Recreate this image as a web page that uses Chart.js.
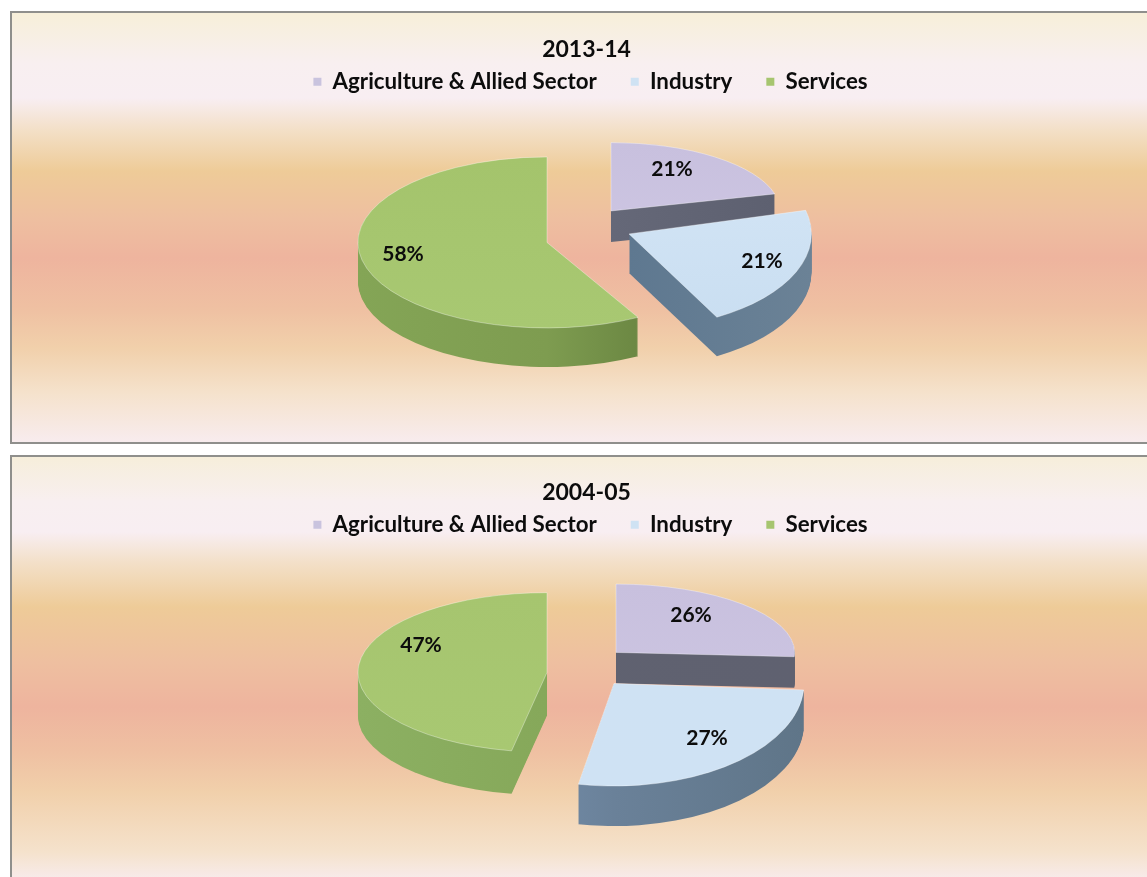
<!DOCTYPE html>
<html><head><meta charset="utf-8">
<style>
html,body{margin:0;padding:0;background:#fff;overflow:hidden;width:1147px;height:877px}
.box{position:absolute;left:10px;width:1149px;box-sizing:content-box;border-left:2px solid #8f8f8c;border-top:2px solid #8f8f8c;border-bottom:2px solid #8f8f8c}
#b1{top:11px;height:429px;background:linear-gradient(to bottom,#f7efd9 0,#f8eff0 50px,#f8eef2 85px,#f3dfc6 118px,#eecb98 158px,#eebfa0 205px,#eeb49e 245px,#efc0a2 295px,#f1d0ab 335px,#f5e2cc 380px,#f8ecee 429px)}
#b2{top:455px;height:425px;background:linear-gradient(to bottom,#f6eedb 0,#f8eff0 45px,#f8eef2 75px,#f3e0c9 105px,#eecb98 150px,#eebfa0 205px,#eeb49e 250px,#efc0a2 295px,#f1d0ab 335px,#f5e2cc 395px,#f8ecee 425px)}
canvas{display:block;filter:blur(.5px)}
</style></head><body>
<div class="box" id="b1"><canvas id="c1" width="1149" height="429"></canvas></div>
<div class="box" id="b2"><canvas id="c2" width="1149" height="425"></canvas></div>
<script src="https://cdn.jsdelivr.net/npm/chart.js@4"></script>
<script>
const categories = ['Agriculture & Allied Sector','Industry','Services'];
const values2013 = [21,21,58];
const values2004 = [26,27,47];
const titles = ['2013-14','2004-05'];
const seriesColors = ['#c9c3de','#cfe2f3','#a6c56f'];

const FONT = 'Lato';
const pie3d = {
  id:'pie3d',
  afterLayout(chart){ chart.legend.left += 8; },
  beforeDatasetDraw(){ return false; },
  afterDatasetsDraw(chart,args,opts){
    const ctx = chart.ctx, meta = chart.getDatasetMeta(0);
    const data = chart.data.datasets[0].data;
    const shape = (p,s,dy)=>{
      const cx = p.x+s.dx, cy = p.y+s.dy+dy;
      ctx.beginPath();
      ctx.moveTo(cx,cy);
      ctx.ellipse(cx,cy,p.outerRadius*s.rx,p.outerRadius*s.ry,0,p.startAngle,p.endAngle);
      ctx.closePath();
    };
    for(const i of [2,0,1]){
      const s = opts.slices[i];
      const p = meta.data[i].getProps(['x','y','startAngle','endAngle','outerRadius'],true);
      const R = p.outerRadius*s.rx, cx = p.x+s.dx, cy = p.y+s.dy;
      const g = ctx.createLinearGradient(cx-R,0,cx+R,0);
      s.side.forEach((c,k)=>g.addColorStop(k/(s.side.length-1),c));
      ctx.fillStyle = g;
      for(let d=s.depth;d>0;d--){ shape(p,s,d); ctx.fill(); }
      const t = ctx.createLinearGradient(0,cy-p.outerRadius*s.ry,0,cy+p.outerRadius*s.ry);
      t.addColorStop(0,s.top[0]); t.addColorStop(1,s.top[1]);
      ctx.fillStyle = t;
      shape(p,s,0); ctx.fill();
      ctx.strokeStyle = 'rgba(255,255,255,.35)';
      ctx.lineWidth = 1;
      ctx.stroke();
    }
    ctx.fillStyle = '#0c0c0c';
    ctx.font = 'bold 21px '+FONT;
    ctx.textAlign = 'center';
    ctx.textBaseline = 'middle';
    data.forEach((v,i)=>{
      const s = opts.slices[i], p = meta.data[i].getProps(['x','y'],true);
      ctx.fillText(v+'%',p.x+s.dx+s.lx,p.y+s.dy+s.ly);
    });
  }
};

function make(id,title,values,slices,titleTop){
  return new Chart(document.getElementById(id),{
    type:'pie',
    data:{labels:categories,datasets:[{data:values,backgroundColor:seriesColors,borderWidth:0}]},
    plugins:[pie3d],
    options:{
      responsive:false,animation:false,devicePixelRatio:1,
      radius:190,
      layout:{padding:0},
      plugins:{
        title:{display:true,text:title,color:'#0c0c0c',font:{family:FONT,size:23,weight:'bold',lineHeight:1.2},padding:{top:titleTop,bottom:-27}},
        legend:{display:true,position:'top',labels:{color:'#0c0c0c',font:{family:FONT,size:22.3,weight:'bold',lineHeight:1.2},boxWidth:8,boxHeight:8,padding:34}},
        tooltip:{enabled:false},
        pie3d:{slices}
      }
    }
  });
}

make('c1',titles[0],values2013,[
 {dx:24.5,dy:-61.5,rx:.89,ry:.36,depth:31,lx:61,ly:-42,top:['#c8c0de','#cfc8e4'],side:['#6d7080','#5d6070']},
 {dx:42.5,dy:-38.5,rx:.96,ry:.5,depth:39,lx:133,ly:27,top:['#d5e6f6','#c9def1'],side:['#6d8196','#5e7890','#6b8296']},
 {dx:-39.5,dy:-30,rx:.995,ry:.45,depth:39,lx:-144,ly:12,top:['#a4c46c','#a8c872'],side:['#84a556','#7e9c50','#587235']}
],23);
make('c2',titles[1],values2004,[
 {dx:29.5,dy:-61.5,rx:.94,ry:.36,depth:31,lx:75,ly:-37,top:['#c8c0de','#cdc6e2'],side:['#606270','#5f6170']},
 {dx:27.5,dy:-30.5,rx:1,ry:.54,depth:40,lx:93,ly:55,top:['#cfe2f3','#cfe2f4'],side:['#7c98ba','#6a8199','#5f7588']},
 {dx:-39.5,dy:-41.5,rx:.995,ry:.42,depth:43,lx:-126,ly:-27,top:['#a6c56f','#a8c872'],side:['#8cb062','#86a85a','#80a256']}
],22);
</script>
</body></html>
